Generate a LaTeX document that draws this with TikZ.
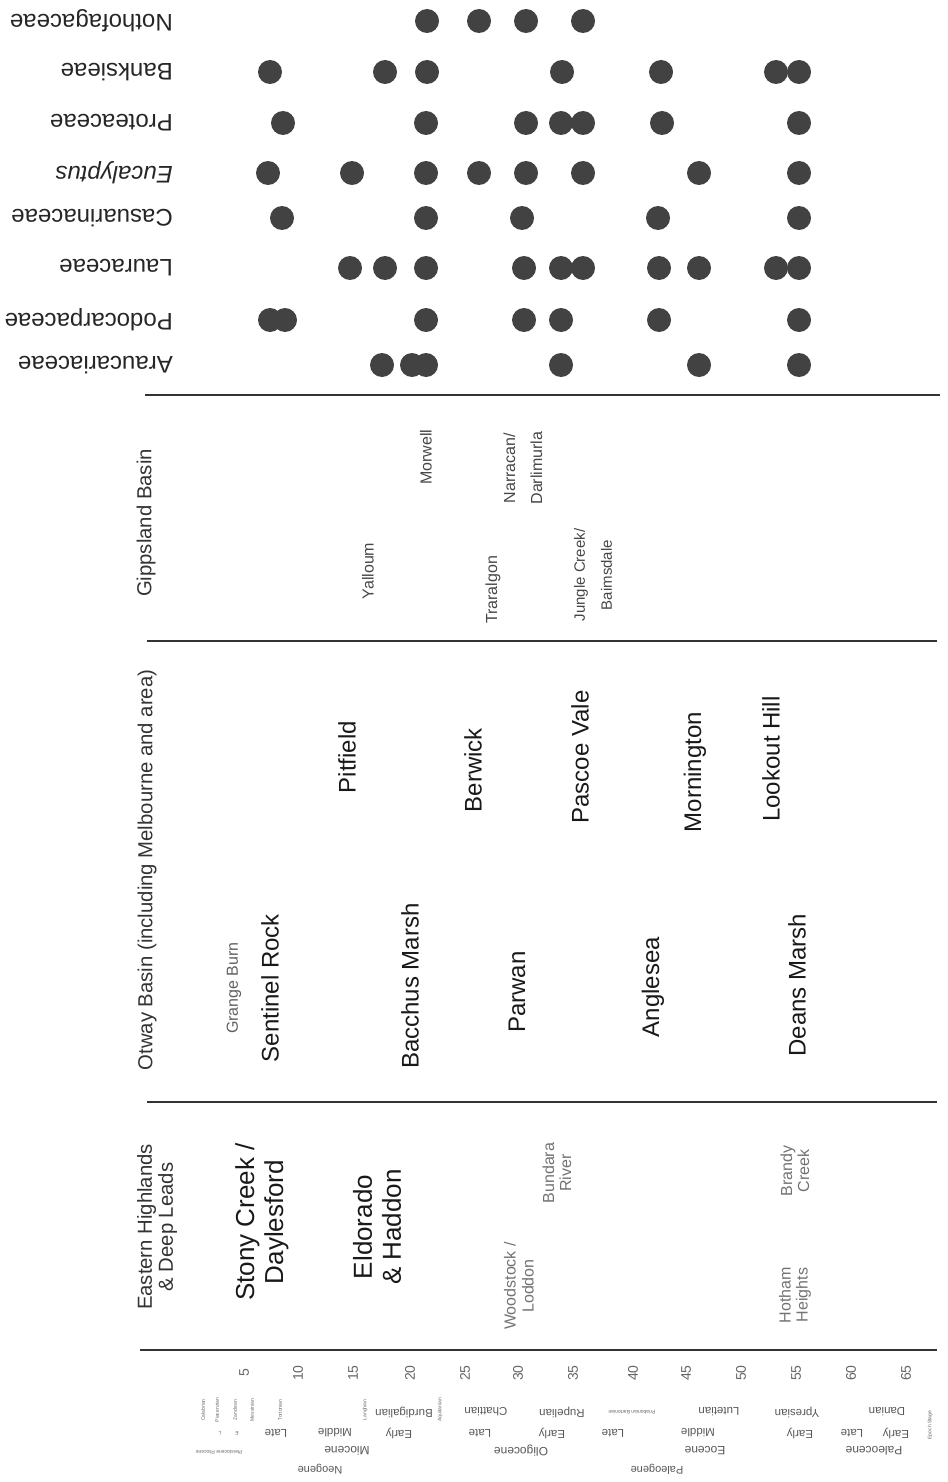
\documentclass[tikz,border=0pt]{standalone}
\usepackage{fontspec}
\setmainfont{Liberation Sans}
\begin{document}
\begin{tikzpicture}[x=1pt,y=-1pt,
  fam/.style={rotate=180, anchor=west, inner sep=0pt, font=\fontsize{24}{28}\selectfont, text=black!85},
  hdr/.style={rotate=90, align=center, inner sep=0pt, font=\fontsize{20.3}{21}\selectfont, text=black!80},
  big/.style={rotate=90, align=center, inner sep=0pt, font=\fontsize{26}{29}\selectfont, text=black!90},
  site/.style={rotate=90, align=center, inner sep=0pt, font=\fontsize{24}{28}\selectfont, text=black!90},
  small/.style={rotate=90, align=center, inner sep=0pt, font=\fontsize{16}{17}\selectfont, text=black!55},
  gsmall/.style={rotate=90, align=center, inner sep=0pt, font=\fontsize{16}{27}\selectfont, text=black!72},
  num/.style={rotate=90, inner sep=0pt, font=\fontsize{14}{16}\selectfont, text=black!60},
  ts/.style={rotate=180, inner sep=0pt, font=\fontsize{11.5}{13}\selectfont, text=black!65},
  tinyv/.style={rotate=90, inner sep=0pt, font=\fontsize{5}{6}\selectfont, text=black!60},
  tinyh/.style={rotate=180, inner sep=0pt, font=\fontsize{5}{6}\selectfont, text=black!60},
  rule/.style={line width=2.2pt, black!80},
  dot/.style={circle, fill=black!74, minimum size=24pt, inner sep=0pt}
]
\fill[white] (0,0) rectangle (947,1482);
\useasboundingbox (0,0) rectangle (947,1482);

% rules
\coordinate (r1a) at (145,395);  \coordinate (r1b) at (940,395);
\coordinate (r2a) at (147,641);  \coordinate (r2b) at (937,641);
\coordinate (r3a) at (147,1102); \coordinate (r3b) at (937,1102);
\coordinate (r4a) at (140,1350); \coordinate (r4b) at (937,1350);
\draw[rule] (r1a) -- (r1b);
\draw[rule] (r2a) -- (r2b);
\draw[rule] (r3a) -- (r3b);
\draw[rule] (r4a) -- (r4b);

% family labels
\node[fam] (fNoth) at (173,21)  {Nothofagaceae};
\node[fam] (fBank) at (173,72)  {Banksieae};
\node[fam] (fProt) at (173,123) {Proteaceae};
\node[fam, font=\fontsize{24}{28}\selectfont\itshape] (fEuca) at (173,173) {Eucalyptus};
\node[fam] (fCasu) at (173,218) {Casuarinaceae};
\node[fam] (fLaur) at (173,268) {Lauraceae};
\node[fam] (fPodo) at (173,320) {Podocarpaceae};
\node[fam] (fArau) at (173,365) {Araucariaceae};

% dots
\foreach \x [count=\i] in {427,479,526,583} \node[dot] (dA\i) at (\x,21) {};
\foreach \x [count=\i] in {270,385,427,562,661,776,799} \node[dot] (dB\i) at (\x,72) {};
\foreach \x [count=\i] in {283,426,526,561,583,662,799} \node[dot] (dC\i) at (\x,123) {};
\foreach \x [count=\i] in {268,352,426,479,526,583,699,799} \node[dot] (dD\i) at (\x,173) {};
\foreach \x [count=\i] in {282,426,522,658,799} \node[dot] (dE\i) at (\x,218) {};
\foreach \x [count=\i] in {350,385,426,524,561,583,659,699,776,799} \node[dot] (dF\i) at (\x,268) {};
\foreach \x [count=\i] in {270,285,426,524,561,659,799} \node[dot] (dG\i) at (\x,320) {};
\foreach \x [count=\i] in {382,412,426,561,699,799} \node[dot] (dH\i) at (\x,365) {};

% Gippsland Basin
\node[hdr] (hG) at (146,523) {Gippsland Basin};
\node[gsmall] (gYal) at (368,571) {Yalloum};
\node[gsmall] (gMor) at (426,457) {Morwell};
\node[gsmall] (gNar) at (523,468) {Narracan/\\Darlimurla};
\node[gsmall] (gTra) at (493,590) {Traralgon};
\node[gsmall, font=\fontsize{15}{27}\selectfont] (gJun) at (593,575) {Jungle Creek/\\Baimsdale};

% Otway Basin
\node[hdr] (hO) at (147,870) {Otway Basin (including Melbourne and area)};
\node[small, text=black!62] (oGra) at (234,988) {Grange Burn};
\node[site] (oSen) at (270,988) {Sentinel Rock};
\node[site] (oBac) at (410,986) {Bacchus Marsh};
\node[site] (oPar) at (517,992) {Parwan};
\node[site] (oAng) at (653,987) {Anglesea};
\node[site] (oDea) at (797,985) {Deans Marsh};
\node[site] (oPit) at (347,757) {Pitfield};
\node[site] (oBer) at (473,770) {Berwick};
\node[site] (oPas) at (580,757) {Pascoe Vale};
\node[site] (oMor) at (695,772) {Mornington};
\node[site] (oLoo) at (771,759) {Lookout Hill};

% Eastern Highlands
\node[hdr] (hE) at (157,1227) {Eastern Highlands\\\& Deep Leads};
\node[big] (eSto) at (262,1222) {Stony Creek /\\Daylesford};
\node[big] (eEld) at (377,1227) {Eldorado\\\& Haddon};
\node[small, font=\fontsize{16}{18}\selectfont] (eWoo) at (519,1286) {Woodstock /\\Loddon};
\node[small] (eBun) at (557,1173) {Bundara\\River};
\node[small] (eHot) at (795,1295) {Hotham\\Heights};
\node[small] (eBra) at (795,1171) {Brandy\\Creek};

% time scale numbers
\foreach \n/\x in {5/244,10/298,15/353,20/410,25/465,30/518,35/573,40/633,45/686,50/741,55/796,60/851,65/906}
  \node[num] (n\n) at (\x,1373) {\n};

% stages
\node[ts] (sBur) at (404,1412) {Burdigalian};
\node[ts] (sCha) at (486,1412) {Chattian};
\node[ts] (sRup) at (562,1412) {Rupelian};
\node[tinyh] (sBar) at (632,1412) {Priabonian Bartonian};
\node[ts] (sLut) at (719,1412) {Lutetian};
\node[ts] (sYpr) at (797,1412) {Ypresian};
\node[ts] (sDan) at (887,1412) {Danian};
\node[tinyv] (tCal) at (203,1410) {Calabrian};
\node[tinyv] (tPia) at (217,1410) {Piacenzian};
\node[tinyv] (tZan) at (235,1410) {Zanclean};
\node[tinyv] (tMes) at (252,1410) {Messinian};
\node[tinyv] (tTor) at (280,1410) {Tortonian};
\node[tinyv] (tLan) at (365,1410) {Langhian};
\node[tinyv] (tAqu) at (440,1410) {Aquitanian};
\node[tinyv] (tEpo) at (930,1425) {Epoch Stage};

% sub-epochs
\node[tinyh] (uL0) at (220,1433) {L};
\node[tinyh] (uE0) at (237,1433) {E};
\node[ts] (uL1) at (276,1433) {Late};
\node[ts] (uM1) at (335,1433) {Middle};
\node[ts] (uE1) at (399,1433) {Early};
\node[ts] (uL2) at (480,1433) {Late};
\node[ts] (uE2) at (552,1433) {Early};
\node[ts] (uL3) at (613,1433) {Late};
\node[ts] (uM3) at (698,1433) {Middle};
\node[ts] (uE3) at (800,1433) {Early};
\node[ts] (uL4) at (852,1433) {Late};
\node[ts] (uE4) at (896,1433) {Early};

% epochs
\node[tinyh] (ePP) at (219,1452) {Pleistocene Pliocene};
\node[ts, font=\fontsize{12}{14}\selectfont] (eMio) at (347,1451) {Miocene};
\node[ts, font=\fontsize{12}{14}\selectfont] (eOli) at (521,1451) {Oligocene};
\node[ts, font=\fontsize{12}{14}\selectfont] (eEoc) at (705,1451) {Eocene};
\node[ts, font=\fontsize{12}{14}\selectfont] (ePal) at (874,1451) {Paleocene};

% periods
\node[ts, font=\fontsize{11}{13}\selectfont] (pNeo) at (320,1469) {Neogene};
\node[ts, font=\fontsize{11}{13}\selectfont] (pPal) at (657,1469) {Paleogene};
\end{tikzpicture}
\end{document}
